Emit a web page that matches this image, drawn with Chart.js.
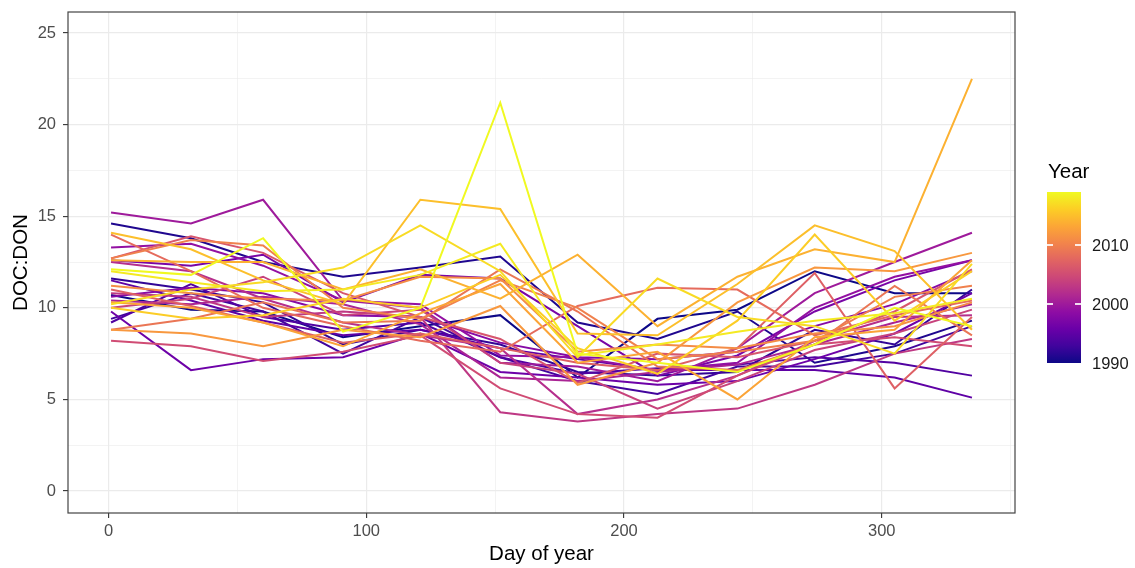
<!DOCTYPE html>
<html>
<head>
<meta charset="utf-8">
<script src="https://cdn.jsdelivr.net/npm/chart.js@4.4.1/dist/chart.umd.min.js"></script>
<style>
    html, body { margin: 0; padding: 0; background: #fff; }
    #wrap { position: relative; width: 1135px; height: 568px; font-family: "Liberation Sans", Arial, sans-serif; }
    #legend-title { position: absolute; left: 1048px; top: 161px; font-size: 20.5px; line-height: 1; color: #000; }
    #legend-bar { position: absolute; left: 1047px; top: 192px; width: 34px; height: 171px; }
    .legend-tick { position: absolute; width: 6px; height: 1.2px; background: rgba(255, 255, 255, 0.85); }
    .legend-label { position: absolute; left: 1092px; font-size: 16.5px; line-height: 1; color: #1a1a1a; transform: translateY(-50%); }
</style>
</head>
<body>
<div id="wrap">
    <canvas id="main-chart"></canvas>
    <div id="legend-title">Year</div>
    <div id="legend-bar"></div>
</div>
<script>
const days = [1, 32, 60, 91, 121, 152, 182, 213, 244, 274, 305, 335];
const years = [1990, 1991, 1992, 1993, 1994, 1995, 1996, 1997, 1998, 1999, 2000, 2001, 2002, 2003, 2004,
    2005, 2006, 2007, 2008, 2009, 2010, 2011, 2012, 2013, 2014, 2015, 2016, 2017, 2018, 2019];

// DOC:DON per month, one array per year
const y1990 = [10.7, 9.9, 9.8, 8.4, 9.0, 9.6, 6.2, 9.4, 9.9, 12.0, 10.8, 10.8];
const y1991 = [14.6, 13.8, 12.5, 11.7, 12.2, 12.8, 9.2, 8.3, 9.8, 7.0, 7.9, 9.3];
const y1992 = [11.6, 11.0, 10.3, 8.0, 8.8, 8.0, 6.5, 6.3, 6.5, 8.8, 8.0, 11.0];
const y1993 = [9.4, 10.8, 9.8, 7.5, 9.5, 7.3, 6.0, 5.3, 6.8, 6.8, 7.5, 9.0];
const y1994 = [9.2, 11.3, 9.5, 8.8, 9.2, 7.3, 6.4, 6.7, 6.9, 7.3, 7.0, 6.3];
const y1995 = [11.5, 10.4, 9.3, 8.5, 8.8, 7.8, 7.2, 6.6, 6.6, 6.6, 6.2, 5.1];
const y1996 = [9.8, 6.6, 7.2, 7.3, 8.6, 6.5, 6.2, 5.8, 6.0, 7.2, 8.6, 10.8];
const y1997 = [12.6, 12.3, 12.9, 10.3, 11.8, 11.6, 9.0, 6.3, 7.4, 9.8, 11.5, 12.6];
const y1998 = [10.6, 11.1, 10.8, 9.6, 9.5, 8.1, 7.3, 7.2, 7.6, 9.0, 10.2, 12.0];
const y1999 = [13.3, 13.5, 12.3, 10.4, 10.2, 7.4, 7.3, 6.6, 7.0, 10.0, 11.7, 12.6];
const y2000 = [15.2, 14.6, 15.9, 10.4, 10.0, 7.0, 6.8, 6.0, 7.8, 10.8, 12.5, 14.1];
const y2001 = [10.4, 10.2, 10.6, 10.2, 9.1, 6.2, 6.0, 6.5, 6.9, 8.0, 9.2, 10.2];
const y2002 = [12.5, 12.0, 10.5, 9.2, 8.5, 7.8, 4.2, 5.0, 6.3, 8.2, 9.5, 9.6];
const y2003 = [10.8, 10.6, 9.5, 9.8, 9.5, 4.3, 3.8, 4.2, 4.5, 5.8, 7.5, 8.3];
const y2004 = [10.0, 10.5, 11.7, 9.6, 9.9, 7.0, 6.4, 4.5, 6.0, 7.7, 8.6, 9.9];
const y2005 = [8.2, 7.9, 7.1, 7.6, 8.5, 5.6, 4.2, 4.0, 6.3, 8.0, 8.4, 7.9];
const y2006 = [12.7, 13.9, 13.0, 10.8, 9.5, 8.3, 5.9, 7.5, 7.3, 8.2, 9.8, 12.1];
const y2007 = [11.0, 10.1, 9.2, 8.1, 8.6, 7.8, 7.0, 6.6, 7.8, 11.9, 5.6, 9.5];
const y2008 = [14.0, 12.0, 10.0, 9.0, 8.2, 7.6, 10.1, 11.1, 11.0, 8.5, 9.6, 10.4];
const y2009 = [8.8, 9.4, 10.3, 9.2, 9.3, 12.1, 9.8, 6.8, 6.6, 8.0, 11.2, 8.5];
const y2010 = [12.7, 13.7, 13.4, 10.0, 9.4, 11.5, 10.0, 7.2, 7.6, 8.2, 10.6, 11.2];
const y2011 = [11.2, 10.8, 10.5, 10.4, 11.7, 11.6, 7.6, 8.0, 7.8, 8.6, 9.0, 10.3];
const y2012 = [8.8, 8.6, 7.9, 8.8, 8.4, 10.1, 5.8, 7.0, 10.3, 12.2, 12.0, 13.0];
const y2013 = [10.3, 10.0, 9.2, 7.9, 9.7, 11.3, 7.0, 7.6, 5.0, 8.4, 8.8, 12.6];
const y2014 = [12.6, 12.5, 12.5, 11.0, 12.1, 10.5, 12.9, 9.0, 11.7, 13.2, 12.5, 22.5];
const y2015 = [14.1, 13.2, 11.5, 10.2, 15.9, 15.4, 8.6, 8.5, 11.3, 14.5, 13.1, 8.8];
const y2016 = [10.0, 9.4, 9.6, 10.5, 10.0, 11.8, 7.8, 6.4, 9.3, 14.0, 9.3, 12.0];
const y2017 = [10.2, 11.0, 11.4, 12.2, 14.5, 12.0, 7.3, 11.6, 9.5, 9.0, 7.5, 12.4];
const y2018 = [12.0, 11.4, 10.9, 11.0, 11.8, 13.5, 7.4, 8.0, 8.7, 9.3, 9.7, 10.5];
const y2019 = [12.1, 11.8, 13.8, 8.7, 10.0, 21.2, 7.5, 7.0, 6.5, 8.0, 10.0, 9.0];

const series = [y1990, y1991, y1992, y1993, y1994, y1995, y1996, y1997, y1998, y1999, y2000, y2001, y2002, y2003, y2004,
    y2005, y2006, y2007, y2008, y2009, y2010, y2011, y2012, y2013, y2014, y2015, y2016, y2017, y2018, y2019];

const x_ticks = [0, 100, 200, 300];
const x_minor = [50, 150, 250, 350];
const y_ticks = [0, 5, 10, 15, 20, 25];
const y_minor = [2.5, 7.5, 12.5, 17.5, 22.5];
const legend_ticks = [1990, 2000, 2010];

const plasma = ["#0d0887", "#41049d", "#6a00a8", "#8f0da4", "#b12a90", "#cc4778",
    "#e16462", "#f2844b", "#fca636", "#fcce25", "#f0f921"];

const hex_to_rgb = (h) => [1, 3, 5].map((i) => parseInt(h.slice(i, i + 2), 16));

const warna_plasma = (t) => {
    const pos = Math.min(Math.max(t, 0), 1) * (plasma.length - 1);
    const i = Math.min(Math.floor(pos), plasma.length - 2);
    const f = pos - i;
    const a = hex_to_rgb(plasma[i]);
    const b = hex_to_rgb(plasma[i + 1]);
    const c = a.map((v, k) => Math.round(v + (b[k] - v) * f));
    return `rgb(${c[0]}, ${c[1]}, ${c[2]})`;
};

const year_min = years[0];
const year_max = years[years.length - 1];

const datasets = series.map((vals, i) => ({
    label: String(years[i]),
    data: vals.map((v, j) => ({ x: days[j], y: v })),
    borderColor: warna_plasma((years[i] - year_min) / (year_max - year_min)),
    borderWidth: 2,
    pointRadius: 0,
    tension: 0,
    fill: false,
    order: years.length - i,
}));

const panel_border = {
    id: "panel_border",
    afterDraw(chart) {
        const { ctx, chartArea: a } = chart;
        ctx.save();
        ctx.strokeStyle = "#444444";
        ctx.lineWidth = 1.2;
        ctx.strokeRect(a.left, a.top, a.right - a.left, a.bottom - a.top);
        ctx.restore();
    },
};

const grid_opts = (majors) => ({
    color: "#ebebeb",
    lineWidth: (c) => (majors.includes(c.tick.value) ? 1.2 : 0.6),
    tickColor: (c) => (majors.includes(c.tick.value) ? "#333333" : "rgba(0,0,0,0)"),
    tickWidth: 1.1,
    tickLength: 5,
    drawTicks: true,
});

const tick_font = { family: "'Liberation Sans', Arial, sans-serif", size: 16.5 };
const title_font = { family: "'Liberation Sans', Arial, sans-serif", size: 20.5 };

const canvas = document.getElementById("main-chart");
canvas.width = 1135;
canvas.height = 568;

new Chart(canvas.getContext("2d"), {
    type: "line",
    data: { datasets: datasets },
    plugins: [panel_border],
    options: {
        responsive: false,
        animation: false,
        layout: { padding: { left: 0, top: 12, right: 120, bottom: 0 } },
        plugins: {
            legend: { display: false },
            tooltip: { enabled: false },
        },
        scales: {
            x: {
                type: "linear",
                min: -15.7,
                max: 351.7,
                afterBuildTicks: (scale) => {
                    scale.ticks = [...x_ticks, ...x_minor].sort((a, b) => a - b).map((v) => ({ value: v }));
                },
                afterFit: (scale) => {
                    scale.height = 55;
                    scale.paddingLeft = 0;
                    scale.paddingRight = 0;
                },
                grid: grid_opts(x_ticks),
                border: { display: false },
                ticks: {
                    autoSkip: false,
                    maxRotation: 0,
                    padding: 4,
                    color: "#4d4d4d",
                    font: tick_font,
                    callback: (v) => (x_ticks.includes(v) ? String(v) : ""),
                },
                title: {
                    display: true,
                    text: "Day of year",
                    color: "#000",
                    font: title_font,
                    padding: { top: 0, bottom: 1.5 },
                },
            },
            y: {
                type: "linear",
                min: -1.2,
                max: 26.15,
                afterBuildTicks: (scale) => {
                    scale.ticks = [...y_ticks, ...y_minor].sort((a, b) => a - b).map((v) => ({ value: v }));
                },
                afterFit: (scale) => {
                    scale.width = 68;
                    scale.paddingTop = 0;
                    scale.paddingBottom = 0;
                },
                grid: grid_opts(y_ticks),
                border: { display: false },
                ticks: {
                    autoSkip: false,
                    padding: 7,
                    color: "#4d4d4d",
                    font: tick_font,
                    callback: (v) => (y_ticks.includes(v) ? String(v) : ""),
                },
                title: {
                    display: true,
                    text: "DOC:DON",
                    color: "#000",
                    font: title_font,
                    padding: { top: 9, bottom: 0 },
                },
            },
        },
    },
});

// colour bar legend
const bar = document.getElementById("legend-bar");
const bar_top = 192;
const bar_height = 171;
const stops = plasma.map((c, i) => `${c} ${(i / (plasma.length - 1)) * 100}%`).join(", ");
bar.style.background = `linear-gradient(to top, ${stops})`;

const wrap = document.getElementById("wrap");
legend_ticks.forEach((yr) => {
    const y = bar_top + bar_height - ((yr - year_min) / (year_max - year_min)) * bar_height;
    if (yr > year_min) {
        [0, 28].forEach((dx) => {
            const t = document.createElement("div");
            t.className = "legend-tick";
            t.style.left = `${1047 + dx}px`;
            t.style.top = `${y - 0.6}px`;
            wrap.appendChild(t);
        });
    }
    const lab = document.createElement("div");
    lab.className = "legend-label";
    lab.style.top = `${y}px`;
    lab.textContent = String(yr);
    wrap.appendChild(lab);
});
</script>
</body>
</html>
